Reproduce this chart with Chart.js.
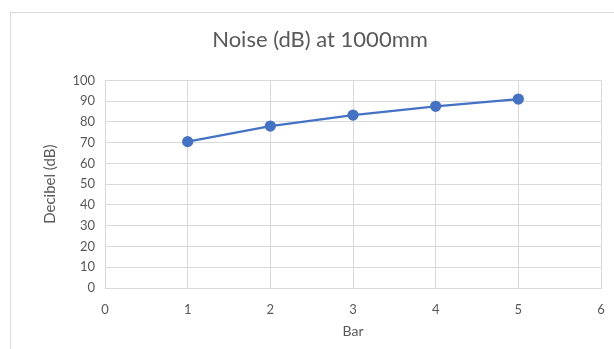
<!DOCTYPE html>
<html>
<head>
<meta charset="utf-8">
<script src="https://cdn.jsdelivr.net/npm/chart.js@4"></script>
<style>
  html, body { margin: 0; padding: 0; background: #fff; overflow: hidden; }
  #frame {
    position: absolute; left: 10px; top: 12px;
    width: 640px; height: 360px;
    border: 1px solid #d9d9d9; box-sizing: border-box;
  }
  #chart { position: absolute; left: 0; top: 0; }
</style>
</head>
<body>
<div id="frame"></div>
<canvas id="chart" width="640" height="349"></canvas>
<script>
// data
const bars = [1, 2, 3, 4, 5];
const decibels = [70.5, 78, 83.3, 87.5, 91];
const xTicks = [0, 1, 2, 3, 4, 5, 6];
const yTicks = [0, 10, 20, 30, 40, 50, 60, 70, 80, 90, 100];

const textColor = "#595959";
const gridColor = "#d9d9d9";
const lineColor = "#4472c4";
const fontFamily = "Lato, 'Open Sans', sans-serif";

const points = bars.map((b, i) => ({ x: b, y: decibels[i] }));

new Chart(document.getElementById("chart"), {
  type: "line",
  data: {
    datasets: [
      {
        label: "Noise",
        data: points,
        borderColor: lineColor,
        backgroundColor: lineColor,
        borderWidth: 2.25,
        pointRadius: 4.5,
        pointHoverRadius: 4.5,
        fill: false,
        tension: 0,
      },
    ],
  },
  options: {
    responsive: false,
    animation: false,
    // canvas is wider than the window, symmetric padding keeps the title centred on the frame
    layout: { padding: { left: 39, right: 39, top: 0, bottom: 0 } },
    plugins: {
      legend: { display: false },
      tooltip: { enabled: false },
      title: {
        display: true,
        text: "Noise (dB) at 1000mm",
        color: textColor,
        font: { family: fontFamily, size: 22, weight: "normal" },
        padding: { top: 27, bottom: 27 },
      },
    },
    scales: {
      x: {
        type: "linear",
        min: xTicks[0],
        max: xTicks[xTicks.length - 1],
        afterBuildTicks: (axis) => { axis.ticks = xTicks.map((v) => ({ value: v })); },
        afterFit: (axis) => { axis.height = 61; },
        grid: { color: gridColor, drawTicks: false },
        border: { color: gridColor },
        ticks: {
          color: textColor,
          padding: 14,
          font: { family: fontFamily, size: 13 },
        },
        title: {
          display: true,
          text: "Bar",
          color: textColor,
          font: { family: fontFamily, size: 14 },
          padding: { bottom: 9 },
        },
      },
      y: {
        min: yTicks[0],
        max: yTicks[yTicks.length - 1],
        afterBuildTicks: (axis) => { axis.ticks = yTicks.map((v) => ({ value: v })); },
        afterFit: (axis) => { axis.width = 66; },
        grid: { color: gridColor, drawTicks: false },
        border: { color: gridColor },
        ticks: {
          color: textColor,
          padding: 10,
          font: { family: fontFamily, size: 13 },
        },
        title: {
          display: true,
          text: "Decibel (dB)",
          color: textColor,
          font: { family: fontFamily, size: 15 },
          padding: { top: 2 },
        },
      },
    },
  },
});
</script>
</body>
</html>
